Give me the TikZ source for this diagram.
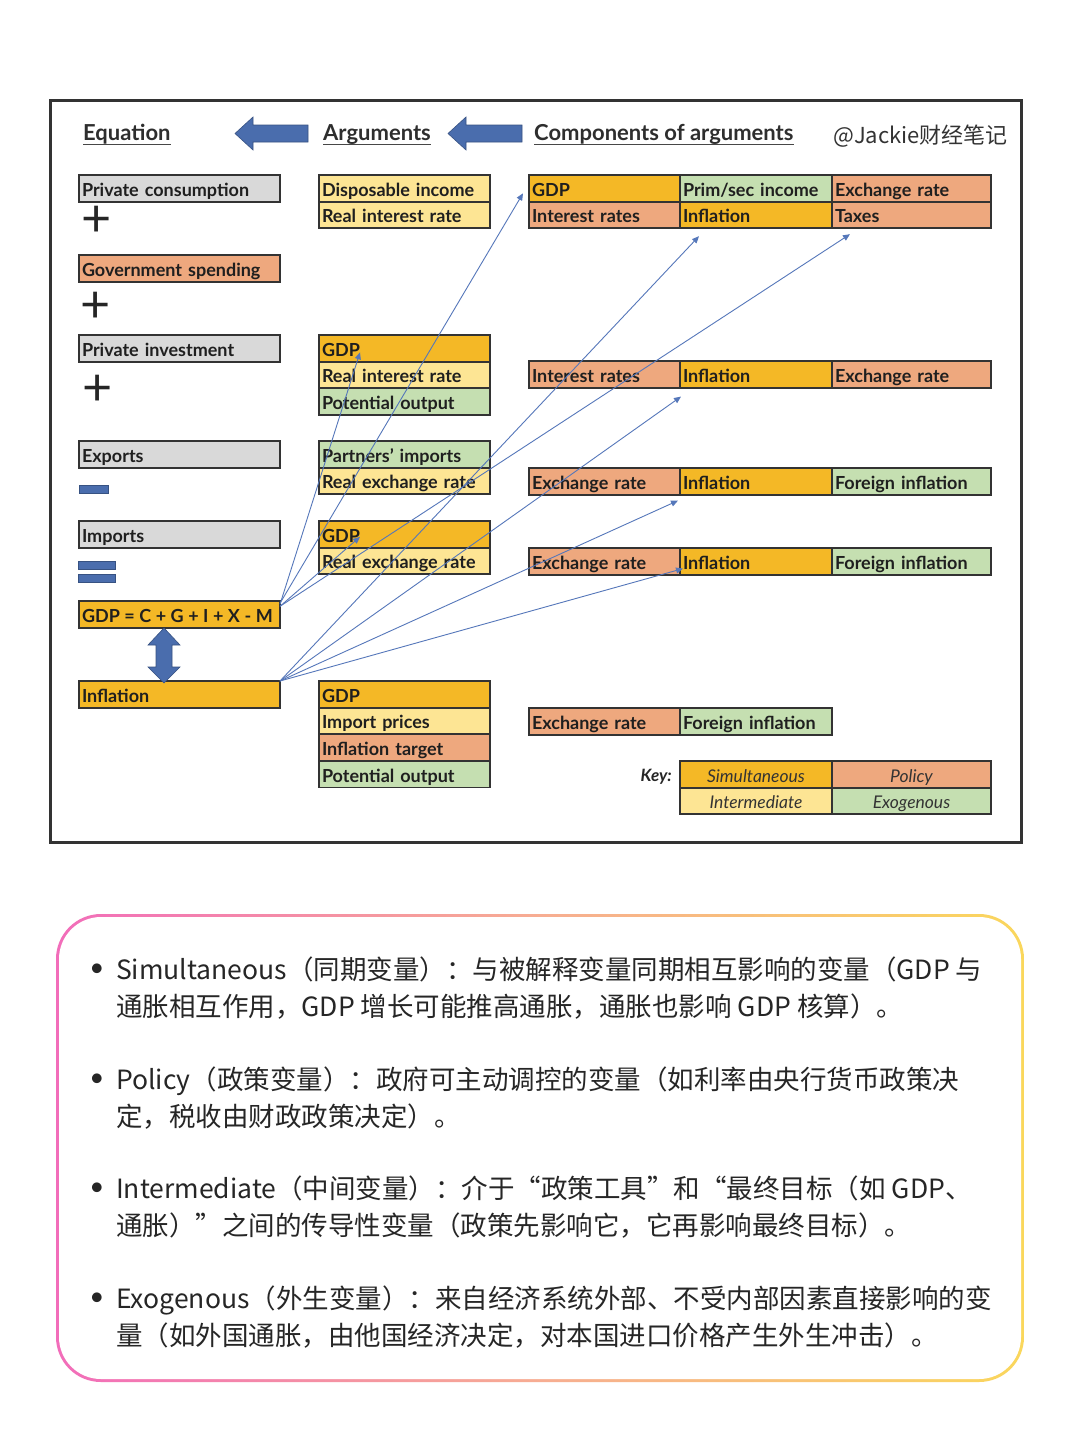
\documentclass[tikz,border=0pt]{standalone}
\usepackage{fontspec}
\setmainfont{Lato}
\newfontfamily\cjkfont{Noto Sans CJK SC}
\usetikzlibrary{positioning, arrows.meta, calc}
\definecolor{colorSimult}{HTML}{F4B826}
\definecolor{colorInterm}{HTML}{FDE594}
\definecolor{colorPolicy}{HTML}{EEA87E}
\definecolor{colorExog}{HTML}{C5DFB1}
\definecolor{colorGris}{HTML}{D9D9D9}
\definecolor{colorBorde}{HTML}{333333}
\definecolor{colorFlecha}{HTML}{4A6DAD}
\definecolor{colorLinea}{HTML}{5577BA}
\definecolor{colorRosa}{HTML}{F26DBA}
\definecolor{colorMelon}{HTML}{F7AD92}
\definecolor{colorAmarillo}{HTML}{FAD75C}
\newcommand{\esp}{\hspace{4.5pt}}

\begin{document}
\begin{tikzpicture}[x=1pt, y=-1pt,
        c/.style={draw=colorBorde, line width=1.8pt, outer sep=0pt, inner xsep=3pt, inner ysep=0pt,
            minimum height=26.6pt, text height=16pt, text depth=0pt, align=left, anchor=north west,
            text=black!88, font=\bfseries\fontsize{18}{18}\selectfont},
        weq/.style={text width=195pt},
        warg/.style={text width=165pt},
        wa/.style={text width=145pt}, wb/.style={text width=146pt}, wc/.style={text width=153pt},
        simu/.style={fill=colorSimult}, inter/.style={fill=colorInterm},
        poli/.style={fill=colorPolicy}, exog/.style={fill=colorExog}, gris/.style={fill=colorGris},
        kc/.style={c, align=center, text=black!80, font=\itshape\fontsize{17.5}{17.5}\selectfont},
        hdr/.style={anchor=base west, inner sep=0pt, text=black!82, font=\bfseries\fontsize{22}{22}\selectfont},
        rel/.style={-{Triangle[length=7pt,width=6pt]}, colorLinea, line width=0.9pt},
        bloque/.style={fill=colorFlecha, draw=colorFlecha!75!black, line width=0.6pt},
        signo/.style={inner sep=0pt, text=black!85, font=\fontsize{52}{52}\selectfont},
        vineta/.style={inner sep=0pt, text=black!85, font=\fontsize{26}{26}\selectfont},
        nota/.style={anchor=north west, align=left, inner sep=0pt, text=black!85,
            font=\cjkfont\fontsize{26.5}{37}\selectfont}
    ]
    \fill[white] (0,0) rectangle (1080,1443);
    \useasboundingbox (0,0) rectangle (1080,1443);
    \draw[colorBorde, line width=3pt] (50,100) rectangle (1021,842);

    % headers
    \node[hdr] (hEq) at (83,140.5) {Equation};
    \node[hdr] (hArg) at (323,140.5) {Arguments};
    \node[hdr] (hComp) at (534,140.5) {Components of arguments};
    \foreach \h in {hEq, hArg, hComp}
        \draw[colorBorde!90, line width=1.8pt] ([yshift=-4pt]\h.base west) -- ([yshift=-4pt]\h.base east);
    \fill[bloque] (235,133.5) -- (253,117) -- (253,125) -- (308,125) -- (308,142) -- (253,142) -- (253,150) -- cycle;
    \fill[bloque] (448,133.5) -- (466,117) -- (466,125) -- (522,125) -- (522,142) -- (466,142) -- (466,150) -- cycle;
    \node[anchor=east, inner sep=0pt, text=black!80, font=\cjkfont\fontsize{22}{22}\selectfont] (marca) at (1008,136) {@Jackie财经笔记};

    % equation
    \node[c, weq, gris] (pc) at (79,175) {Private consumption};
    \node[signo] (mas1) at (97,221) {+};
    \node[c, weq, poli] (gs) at (79,255) {Government spending};
    \node[signo] (mas2) at (96,307) {+};
    \node[c, weq, gris] (pi) at (79,335) {Private investment};
    \node[signo] (mas3) at (98,390) {+};
    \node[c, weq, gris] (ex) at (79,441) {Exports};
    \fill[bloque] (79,485) rectangle (108,493);
    \node[c, weq, gris] (im) at (79,521) {Imports};
    \fill[bloque] (78,561) rectangle (115,569);
    \fill[bloque] (78,574) rectangle (115,582);
    \node[c, weq, simu] (gdp) at (79,601) {\mbox{GDP\esp=\esp C\esp+\esp G\esp+\esp I\esp+\esp X\esp-\esp M}};
    \node[c, weq, simu] (infl) at (79,681) {Inflation};
    \fill[bloque] (164,628) -- (180,645) -- (172,645) -- (172,667) -- (180,667) -- (164,683)
        -- (148,667) -- (156,667) -- (156,645) -- (148,645) -- cycle;

    % arguments
    \node[c, warg, inter] (a1a) at (319,175) {Disposable income};
    \node[c, warg, inter, below=0pt of a1a] (a1b) {Real interest rate};
    \node[c, warg, simu] (a2a) at (319,335) {GDP};
    \node[c, warg, inter, below=0pt of a2a] (a2b) {Real interest rate};
    \node[c, warg, exog, below=0pt of a2b] (a2c) {Potential output};
    \node[c, warg, exog] (a3a) at (319,441) {Partners’ imports};
    \node[c, warg, inter, below=0pt of a3a] (a3b) {Real exchange rate};
    \node[c, warg, simu] (a4a) at (319,521) {GDP};
    \node[c, warg, inter, below=0pt of a4a] (a4b) {Real exchange rate};
    \node[c, warg, simu] (a5a) at (319,681) {GDP};
    \node[c, warg, inter, below=0pt of a5a] (a5b) {Import prices};
    \node[c, warg, poli, below=0pt of a5b] (a5c) {Inflation target};
    \node[c, warg, exog, below=0pt of a5c] (a5d) {Potential output};

    % components
    \node[c, wa, simu] (c11) at (529,175) {GDP};
    \node[c, wb, exog, right=0pt of c11] (c12) {Prim/sec income};
    \node[c, wc, poli, right=0pt of c12] (c13) {Exchange rate};
    \node[c, wa, poli, below=0pt of c11] (c21) {Interest rates};
    \node[c, wb, simu, right=0pt of c21] (c22) {Inflation};
    \node[c, wc, poli, right=0pt of c22] (c23) {Taxes};
    \node[c, wa, poli] (b2a) at (529,361) {Interest rates};
    \node[c, wb, simu, right=0pt of b2a] (b2b) {Inflation};
    \node[c, wc, poli, right=0pt of b2b] (b2c) {Exchange rate};
    \node[c, wa, poli] (b3a) at (529,468) {Exchange rate};
    \node[c, wb, simu, right=0pt of b3a] (b3b) {Inflation};
    \node[c, wc, exog, right=0pt of b3b] (b3c) {Foreign inflation};
    \node[c, wa, poli] (b4a) at (529,548) {Exchange rate};
    \node[c, wb, simu, right=0pt of b4a] (b4b) {Inflation};
    \node[c, wc, exog, right=0pt of b4b] (b4c) {Foreign inflation};
    \node[c, wa, poli] (b5a) at (529,708) {Exchange rate};
    \node[c, wb, exog, right=0pt of b5a] (b5b) {Foreign inflation};

    % key
    \node[anchor=base east, inner sep=0pt, text=black!85, font=\bfseries\itshape\fontsize{17}{17}\selectfont] (key) at (672,781) {Key:};
    \node[kc, wb, simu] (k1) at (680,761) {Simultaneous};
    \node[kc, wc, poli, right=0pt of k1] (k2) {Policy};
    \node[kc, wb, inter, below=0pt of k1] (k3) {Intermediate};
    \node[kc, wc, exog, right=0pt of k3] (k4) {Exogenous};

    % links
    \draw[rel] ([yshift=10pt]gdp.east) -- ([xshift=41pt,yshift=-4pt]a2a.west);
    \draw[rel] ([yshift=11pt]gdp.east) -- ([xshift=-6pt,yshift=-5pt]c11.west);
    \draw[rel] ([yshift=8pt]gdp.east) -- ([xshift=18pt,yshift=-6pt]c23.south west);
    \draw[rel] ([yshift=8pt]gdp.east) -- ([xshift=41pt,yshift=-2.5pt]a4a.west);
    \draw[rel] (infl.north east) -- ([xshift=19pt,yshift=-8pt]c22.south west);
    \draw[rel] (infl.north east) -- ([xshift=1pt,yshift=-9pt]b2b.south west);
    \draw[rel] (infl.north east) -- ([xshift=-2pt,yshift=-6pt]b3b.south west);
    \draw[rel] (infl.north east) -- ([xshift=3pt,yshift=6pt]b4b.south west);

    % notes
    \shade[left color=colorRosa, right color=colorAmarillo, middle color=colorMelon, rounded corners=45pt]
        (56,914) rectangle (1024,1382);
    \fill[white, rounded corners=42pt] (59,917) rectangle (1021,1379);
    \node[vineta] (v1) at (97,970) {•};
    \node[nota] (n1) at (116,957) {Simultaneous（同期变量）：与被解释变量同期相互影响的变量（GDP 与\\通胀相互作用，GDP 增长可能推高通胀，通胀也影响 GDP 核算）。};
    \node[vineta] (v2) at (97,1080) {•};
    \node[nota] (n2) at (116,1067) {Policy（政策变量）：政府可主动调控的变量（如利率由央行货币政策决\\定，税收由财政政策决定）。};
    \node[vineta] (v3) at (97,1189) {•};
    \node[nota] (n3) at (116,1176) {Intermediate（中间变量）：介于“政策工具”和“最终目标（如 GDP、\\通胀）”之间的传导性变量（政策先影响它，它再影响最终目标）。};
    \node[vineta] (v4) at (97,1299) {•};
    \node[nota] (n4) at (116,1286) {Exogenous（外生变量）：来自经济系统外部、不受内部因素直接影响的变\\量（如外国通胀，由他国经济决定，对本国进口价格产生外生冲击）。};
\end{tikzpicture}
\end{document}
